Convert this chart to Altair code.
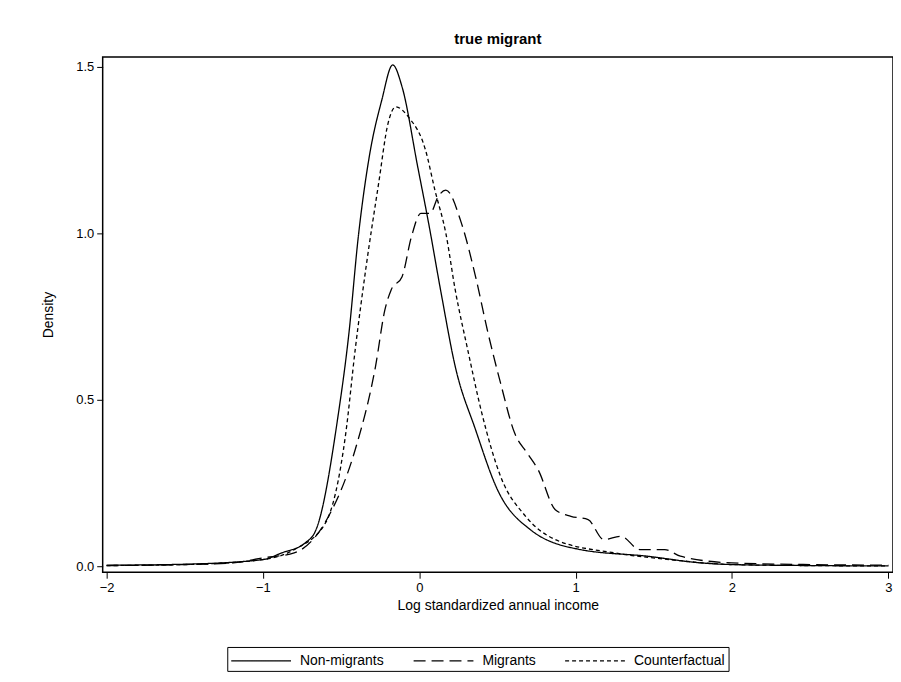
import altair as alt
import pandas as pd

# Non-migrants (solid)
nm_x = [-2.0, -1.5, -1.0, -0.88, -0.73, -0.66, -0.52, -0.45, -0.39, -0.32, -0.24, -0.17,
        -0.11, -0.01, 0.06, 0.14, 0.23, 0.36, 0.50, 0.71, 1.03, 1.46, 1.8, 2.0, 2.5, 3.0]
nm_y = [0.003, 0.006, 0.02, 0.04, 0.07, 0.11, 0.45, 0.70, 0.99, 1.23, 1.40, 1.506,
        1.44, 1.20, 1.03, 0.82, 0.60, 0.41, 0.23, 0.11, 0.05, 0.03, 0.01, 0.005, 0.002, 0.001]

# Migrants (long dash)
mg_x = [-2.0, -1.5, -1.2, -1.0, -0.8, -0.58, -0.41, -0.28, -0.22, -0.18, -0.11, -0.05,
        0.01, 0.07, 0.12, 0.17, 0.27, 0.36, 0.44, 0.52, 0.61, 0.69, 0.76, 0.87, 0.97,
        1.08, 1.18, 1.29, 1.41, 1.57, 1.67, 2.0, 2.5, 3.0]
mg_y = [0.002, 0.005, 0.01, 0.025, 0.04, 0.15, 0.35, 0.60, 0.77, 0.83, 0.87, 0.99,
        1.06, 1.06, 1.11, 1.13, 1.03, 0.87, 0.70, 0.55, 0.40, 0.34, 0.29, 0.17, 0.15,
        0.14, 0.08, 0.09, 0.05, 0.05, 0.03, 0.01, 0.005, 0.003]

# Counterfactual (short dash)
cf_x = [-2.0, -1.5, -1.0, -0.8, -0.60, -0.47, -0.41, -0.34, -0.26, -0.20, -0.15, -0.07,
        0.04, 0.10, 0.17, 0.23, 0.31, 0.40, 0.52, 0.68, 0.87, 1.25, 1.6, 2.0, 2.5, 3.0]
cf_y = [0.002, 0.005, 0.02, 0.05, 0.13, 0.40, 0.65, 0.90, 1.15, 1.33, 1.38, 1.35,
        1.25, 1.13, 1.00, 0.83, 0.65, 0.46, 0.27, 0.15, 0.08, 0.04, 0.02, 0.005, 0.002, 0.001]

groups = ["Non-migrants", "Migrants", "Counterfactual"]
rows = []
for g, xs, ys in zip(groups, [nm_x, mg_x, cf_x], [nm_y, mg_y, cf_y]):
    for i, (a, b) in enumerate(zip(xs, ys)):
        rows.append({"group": g, "x": a, "y": b, "order": i})
df = pd.DataFrame(rows)

chart = alt.Chart(df).mark_line(color="black", strokeWidth=1.3, interpolate="monotone").encode(
    x=alt.X("x:Q", title="Log standardized annual income",
            scale=alt.Scale(domain=[-2.025, 3.03], nice=False, zero=False),
            axis=alt.Axis(values=[-2, -1, 0, 1, 2, 3], format="d")),
    y=alt.Y("y:Q", title="Density",
            scale=alt.Scale(domain=[-0.018, 1.53], nice=False, zero=False),
            axis=alt.Axis(values=[0, 0.5, 1.0, 1.5], format=".1f")),
    strokeDash=alt.StrokeDash("group:N", sort=groups,
                              scale=alt.Scale(domain=groups, range=[[1, 0], [12, 6], [4, 3]]),
                              legend=alt.Legend(title=None, orient="none", direction="horizontal",
                                                legendX=125, legendY=592, symbolType="M-1,0H5",
                                                symbolSize=400, symbolStrokeColor="black",
                                                symbolStrokeWidth=1.2, labelFontSize=14,
                                                labelFont="Liberation Sans", labelColor="black",
                                                strokeColor="black", padding=3, columnPadding=26,
                                                rowPadding=0, labelOffset=48)),
    order="order:Q",
).properties(
    width=793, height=517,
    title=alt.Title("true migrant", fontSize=15, font="Liberation Sans", fontWeight="bold",
                    color="black", offset=10),
    padding={"left": 95, "top": 48, "right": 0, "bottom": 100},
    autosize=alt.AutoSizeParams(type="none"),
).configure_view(
    stroke="black", strokeWidth=1.5
).configure_axis(
    grid=False, domain=False, tickColor="black", tickSize=6,
    labelFont="Liberation Sans", labelFontSize=13, labelColor="black",
    titleFont="Liberation Sans", titleFontSize=14, titleFontWeight="normal", titleColor="black",
    labelPadding=3
).configure_axisY(
    titlePadding=20
).configure_axisX(
    titlePadding=4
)

chart.save("out.html", embed_options={"renderer": "svg", "actions": False})
